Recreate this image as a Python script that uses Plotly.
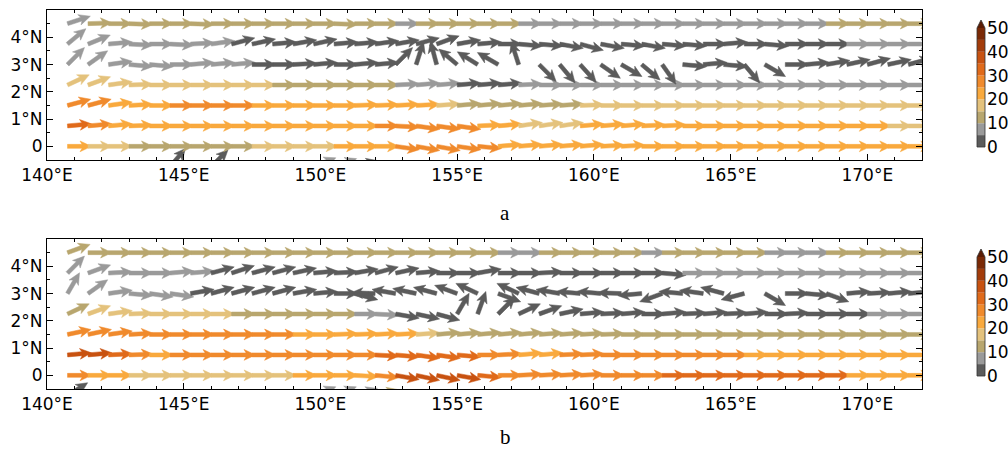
import numpy as np
import plotly.graph_objects as go

# ---------------- grid ----------------
LON = [round(140.75 + 0.75 * k, 2) for k in range(42)]
LATS = [-0.75, 0.0, 0.75, 1.5, 2.25, 3.0, 3.75, 4.5]

# ---------------- panel a : speed (cm/s) and direction (deg, 0=east, 90=north) ----------------
A_SPD_N075 = [8,8,8,8,8,3,8,3,8,8, 8,8,8,8,3,8,8,8,8,8, 8,8,8,8,8,8,8,8,8,8, 8,8,8,8,8,8,8,8,8,8, 8,8]
A_DIR_N075 = [0,0,0,0,0,50,0,45,0,0, 0,0,22,20,15,0,0,0,0,0, 0,0,0,0,0,0,0,0,0,0, 0,0,0,0,0,0,0,0,0,0, 0,0]
A_SPD_000 = [22,17,17,12,12,12,12,12,12,17, 17,17,17,22,22,22,27,27,27,27, 27,22,22,22,22,22,22,22,22,22, 22,22,22,22,22,22,22,22,22,22, 22,22]
A_DIR_000 = [0,0,0,0,0,0,0,0,0,0, 0,0,0,0,0,0,-8,-10,-10,-8, -5,5,5,5,5,5,3,3,0,0, 0,0,0,0,0,0,0,0,0,0, 0,0]
A_SPD_075 = [32,27,22,22,22,22,22,22,22,22, 22,22,22,22,22,27,27,27,27,27, 22,22,17,17,17,22,22,22,22,22, 22,22,22,22,22,22,22,22,22,22, 17,17]
A_DIR_075 = [5,5,5,2,0,0,0,0,0,0, 0,0,0,0,0,0,-3,-8,-8,-8, 3,5,8,8,8,5,5,5,3,3, 0,0,0,0,0,0,0,0,0,0, 0,0]
A_SPD_150 = [27,27,22,22,22,27,27,27,27,22, 22,22,22,22,22,22,22,22,17,12, 12,12,12,12,12,17,17,17,17,17, 17,17,17,17,17,17,17,17,17,17, 17,17]
A_DIR_150 = [15,15,8,3,0,0,0,0,0,0, 0,0,0,0,2,2,3,3,4,5, 5,5,5,4,4,2,0,0,0,0, 0,0,0,0,0,0,0,0,0,0, 0,0]
A_SPD_225 = [17,17,17,17,17,17,17,17,17,17, 12,12,12,12,12,12,8,8,8,3, 3,3,8,8,8,8,8,8,8,8, 8,8,8,8,8,8,8,8,8,8, 8,8]
A_DIR_225 = [25,20,8,2,0,0,0,0,0,0, 0,0,0,0,0,0,3,5,5,5, 5,5,3,0,0,0,0,0,0,0, 0,0,0,0,0,0,0,0,0,0, 0,0]
A_SPD_300 = [8,8,8,8,8,8,8,8,8,3, 3,3,3,3,3,3,3,3,3,3, 3,3,3,3,3,3,3,3,3,3, 3,3,3,3,3,3,3,3,3,3, 3,3]
A_DIR_300 = [45,35,8,-5,-5,0,5,5,5,0, 0,3,5,0,5,5,45,72,105,140, 148,150,108,-45,-50,-48,-35,-30,-40,-55, -5,5,-5,-50,-30,0,5,10,12,15, 12,15]
A_SPD_375 = [8,8,8,8,8,8,8,8,3,3, 3,3,3,3,3,3,3,3,3,3, 3,3,3,3,3,3,3,3,3,3, 3,3,3,3,3,3,3,3,8,8, 8,8]
A_DIR_375 = [40,22,5,-3,0,-3,3,8,15,12, 5,10,12,5,5,8,10,15,20,10, 5,0,-5,-5,-10,-15,-10,-5,-10,-5, -5,0,5,0,-5,0,0,0,0,0, 0,0]
A_SPD_450 = [8,12,12,12,12,12,12,12,12,12, 12,12,12,12,12,12,8,12,12,12, 12,12,8,8,8,8,8,8,8,8, 8,8,8,8,8,8,8,12,12,12, 12,12]
A_DIR_450 = [18,2,0,-2,0,0,-2,0,0,0, 0,0,0,-2,0,0,0,0,0,0, 0,0,0,0,0,0,0,0,0,0, 0,0,0,0,0,0,0,0,0,0, 0,0]

# ---------------- panel b ----------------
B_SPD_N075 = [3,8,8,8,8,8,8,8,8,8, 8,8,8,8,8,12,8,8,8,8, 8,8,8,8,8,8,8,8,8,8, 8,8,8,8,8,8,8,8,8,8, 8,8]
B_DIR_N075 = [33,0,0,0,0,0,0,0,0,0, 0,0,22,22,18,15,0,0,0,0, 0,0,0,0,0,0,0,0,0,0, 0,0,0,0,0,0,0,0,0,0, 0,0]
B_SPD_000 = [27,22,22,17,17,17,17,17,17,17, 17,22,22,22,22,27,37,37,37,37, 32,27,27,27,27,27,27,27,27,32, 32,32,32,32,32,32,32,32,22,22, 22,22]
B_DIR_000 = [0,0,0,0,0,0,0,0,0,0, 0,0,0,0,-3,-5,-10,-12,-12,-10, -5,0,3,3,3,3,0,0,0,0, 0,0,0,0,0,0,0,0,0,0, 0,0]
B_SPD_075 = [37,37,32,27,22,27,27,27,27,27, 27,27,27,27,27,32,32,32,32,32, 27,27,22,22,27,27,27,27,27,27, 27,27,27,22,22,22,22,22,22,22, 22,22]
B_DIR_075 = [5,5,3,2,0,0,0,0,0,0, 0,0,0,0,0,-3,-5,-8,-8,-5, 0,3,5,5,3,3,0,0,0,0, 0,0,0,0,0,0,0,0,0,0, 0,0]
B_SPD_150 = [27,27,27,27,27,27,27,27,27,27, 27,22,22,22,22,22,22,17,12,12, 12,12,12,12,12,12,12,12,12,12, 12,12,12,12,12,12,12,12,12,12, 12,12]
B_DIR_150 = [12,12,8,3,0,0,0,0,0,0, 0,0,0,2,2,3,3,4,5,5, 5,5,5,4,4,3,2,0,0,0, 0,0,0,0,0,0,0,0,0,0, 0,0]
B_SPD_225 = [12,17,17,17,17,17,17,17,12,12, 12,12,12,12,8,8,3,3,3,3, 3,3,3,3,3,3,3,3,3,3, 3,3,3,3,3,3,3,3,3,8, 8,8]
B_DIR_225 = [25,20,8,2,0,0,0,0,0,0, 0,0,0,0,0,-3,-10,-12,-15,60, 70,45,25,20,12,5,3,5,0,5, 3,5,3,5,0,3,0,0,0,0, 0,0]
B_SPD_300 = [8,8,8,8,8,8,3,3,3,3, 3,3,3,3,3,3,3,3,3,3, 3,3,3,3,3,3,3,3,3,3, 3,3,3,3,3,3,3,3,3,3, 3,3]
B_DIR_300 = [60,35,8,-5,-8,-8,10,15,15,15, 15,10,5,0,-15,178,170,168,165,160, 155,-20,155,165,170,175,175,178,185,200, 175,172,165,195,-30,0,-5,-20,5,3, 5,5]
B_SPD_375 = [8,8,8,8,8,8,8,3,3,3, 3,3,3,3,3,3,3,3,3,3, 3,3,3,3,3,3,3,3,3,3, 8,8,8,8,8,8,8,8,8,8, 8,8]
B_DIR_375 = [45,20,3,0,0,5,5,15,18,15, 15,12,5,3,10,15,12,5,0,0, 10,0,0,3,0,0,0,0,0,-5, 0,0,0,0,0,0,0,0,0,0, 0,0]
B_SPD_450 = [12,12,12,12,12,12,12,12,12,12, 12,12,12,12,12,12,12,12,12,12, 12,8,8,12,12,12,12,12,8,12, 12,12,12,12,8,8,8,12,12,12, 12,12]
B_DIR_450 = [20,0,0,0,0,0,0,0,0,0, 0,0,0,0,0,0,0,0,0,0, 0,0,0,0,0,0,0,0,0,0, 0,0,0,0,0,0,0,0,0,0, 0,0]

PANEL_A = [(A_SPD_N075, A_DIR_N075), (A_SPD_000, A_DIR_000), (A_SPD_075, A_DIR_075),
           (A_SPD_150, A_DIR_150), (A_SPD_225, A_DIR_225), (A_SPD_300, A_DIR_300),
           (A_SPD_375, A_DIR_375), (A_SPD_450, A_DIR_450)]
PANEL_B = [(B_SPD_N075, B_DIR_N075), (B_SPD_000, B_DIR_000), (B_SPD_075, B_DIR_075),
           (B_SPD_150, B_DIR_150), (B_SPD_225, B_DIR_225), (B_SPD_300, B_DIR_300),
           (B_SPD_375, B_DIR_375), (B_SPD_450, B_DIR_450)]

# ---------------- colour levels (0..50, step 5) ----------------
LEVELS = [0, 5, 10, 15, 20, 25, 30, 35, 40, 45, 50]
LEVEL_COLORS = ["#5b5b5b", "#9a9a9a", "#b8a66e", "#e4c27c", "#f9a93d",
                "#f08a2c", "#e06a1a", "#c85210", "#a33c0a", "#7b2a06"]
EXTEND_COLOR = "#5a1c04"
CB_TICKS = [0, 10, 20, 30, 40, 50]

# ---------------- geometry ----------------
W_PX, H_PX = 1008, 450
XR = [140, 172]
YR = [-0.5, 5.0]
AX_L, AX_R = 47, 922
A_TOP, A_BOT = 10, 160
B_TOP, B_BOT = 239, 389
SX = (AX_R - AX_L) / (XR[1] - XR[0])      # px per degree lon
SY = (A_BOT - A_TOP) / (YR[1] - YR[0])    # px per degree lat

# arrow shape in pixels
L_ARR, SHAFT, HEAD_W, HEAD_L, HEAD_AX = 24.0, 2.0, 5.4, 11.5, 9.5
SHAPE = [(0, -SHAFT), (L_ARR - HEAD_AX, -SHAFT), (L_ARR - HEAD_L, -HEAD_W), (L_ARR, 0),
         (L_ARR - HEAD_L, HEAD_W), (L_ARR - HEAD_AX, SHAFT), (0, SHAFT), (0, -SHAFT)]


def arrow_xy(x0, y0, ang):
    a = np.deg2rad(ang)
    c, s = np.cos(a), np.sin(a)
    xs, ys = [], []
    for px, py in SHAPE:
        xs.append(x0 + (px * c - py * s) / SX)
        ys.append(y0 + (px * s + py * c) / SY)
    return xs, ys


def level(v):
    return min(int(v // 5), 9)


fig = go.Figure()


def flush(lv, xs, ys, xa, ya):
    fig.add_trace(go.Scatter(x=xs, y=ys, mode="lines", fill="toself",
                             fillcolor=LEVEL_COLORS[lv],
                             line=dict(color=LEVEL_COLORS[lv], width=0.5),
                             hoverinfo="skip", showlegend=False, xaxis=xa, yaxis=ya))


def add_panel(rows, xa, ya):
    for lat, (spd, dirs) in zip(LATS, rows):
        assert len(spd) == 42 and len(dirs) == 42
        run_lvl, run_x, run_y = None, [], []
        for k in range(42):
            lv = level(spd[k])
            if run_lvl is not None and lv != run_lvl:
                flush(run_lvl, run_x, run_y, xa, ya)
                run_x, run_y = [], []
            run_lvl = lv
            xs, ys = arrow_xy(LON[k], lat, dirs[k])
            run_x += xs + [None]
            run_y += ys + [None]
        flush(run_lvl, run_x, run_y, xa, ya)


add_panel(PANEL_A, "x", "y")
add_panel(PANEL_B, "x2", "y2")

# ---------------- colour bars (drawn from the level list) ----------------
FONT = dict(family="DejaVu Sans", size=17, color="black")
CB_X0, CB_X1 = 977, 985
CB_PANELS = [(28, 147), (257, 376)]   # pixel rows of value 50 and value 0
shapes, annotations = [], []


def px2py(y):
    return 1 - y / H_PX


for top, bot in CB_PANELS:
    per = (bot - top) / (LEVELS[-1] - LEVELS[0])
    for i in range(10):
        y_lo = bot - (LEVELS[i] - LEVELS[0]) * per
        y_hi = bot - (LEVELS[i + 1] - LEVELS[0]) * per
        shapes.append(dict(type="rect", xref="paper", yref="paper",
                           x0=CB_X0 / W_PX, x1=CB_X1 / W_PX, y0=px2py(y_lo), y1=px2py(y_hi),
                           fillcolor=LEVEL_COLORS[i], line=dict(width=0), layer="above"))
    xm = (CB_X0 + CB_X1) / 2
    path = (f"M {CB_X0 / W_PX},{px2py(bot)} L {CB_X0 / W_PX},{px2py(top)} "
            f"L {xm / W_PX},{px2py(top - 8)} L {CB_X1 / W_PX},{px2py(top)} "
            f"L {CB_X1 / W_PX},{px2py(bot)} Z")
    shapes.append(dict(type="path", xref="paper", yref="paper",
                       path=f"M {CB_X0 / W_PX},{px2py(top)} L {xm / W_PX},{px2py(top - 8)} "
                            f"L {CB_X1 / W_PX},{px2py(top)} Z",
                       fillcolor=EXTEND_COLOR, line=dict(width=0), layer="above"))
    shapes.append(dict(type="path", xref="paper", yref="paper", path=path,
                       fillcolor="rgba(0,0,0,0)", line=dict(color="#333333", width=0.8), layer="above"))
    for t in CB_TICKS:
        yy = bot - (t - LEVELS[0]) * per
        annotations.append(dict(text=str(t), x=(CB_X1 + 1) / W_PX, y=px2py(yy), xref="paper", yref="paper",
                                xanchor="left", yanchor="middle", showarrow=False, font=FONT,
                                borderpad=0))

annotations += [
    dict(text="a", x=505 / W_PX, y=px2py(213), xref="paper", yref="paper", showarrow=False,
         xanchor="center", yanchor="middle",
         font=dict(family="Liberation Serif", size=21, color="black")),
    dict(text="b", x=505 / W_PX, y=px2py(437), xref="paper", yref="paper", showarrow=False,
         xanchor="center", yanchor="middle",
         font=dict(family="Liberation Serif", size=21, color="black")),
]

XT = [140, 145, 150, 155, 160, 165, 170]
XT_TEXT = [f"{v}°E" for v in XT]
YT = [0, 1, 2, 3, 4]
YT_TEXT = ["0", "1°N", "2°N", "3°N", "4°N"]

axis_common = dict(showline=True, linecolor="black", linewidth=1, mirror="allticks",
                   ticks="inside", ticklen=6, tickwidth=1, tickcolor="black", automargin=False,
                   showgrid=False, zeroline=False, tickfont=FONT, fixedrange=True)

xdom = [AX_L / W_PX, AX_R / W_PX]
xaxis = dict(axis_common, range=XR, domain=xdom, tickvals=XT, ticktext=XT_TEXT,
             minor=dict(ticks="inside", ticklen=3, tickcolor="black", dtick=1, tick0=140))
yaxis_minor = dict(ticks="inside", ticklen=3, tickcolor="black", dtick=0.5, tick0=0)

fig.update_layout(
    width=W_PX, height=H_PX, margin=dict(l=0, r=0, t=0, b=0, pad=0, autoexpand=False),
    paper_bgcolor="white", plot_bgcolor="white",
    xaxis=dict(xaxis, anchor="y"),
    yaxis=dict(axis_common, range=YR, domain=[px2py(A_BOT), px2py(A_TOP)], anchor="x",
               tickvals=YT, ticktext=YT_TEXT, minor=yaxis_minor),
    xaxis2=dict(xaxis, anchor="y2"),
    yaxis2=dict(axis_common, range=YR, domain=[px2py(B_BOT), px2py(B_TOP)], anchor="x2",
                tickvals=YT, ticktext=YT_TEXT, minor=yaxis_minor),
    shapes=shapes,
    annotations=annotations,
)

# page without the browser's default body margin so the figure starts at the window corner
fig.write_html("out.html", config={"displayModeBar": False},
               post_script="document.body.style.margin='0px';")
